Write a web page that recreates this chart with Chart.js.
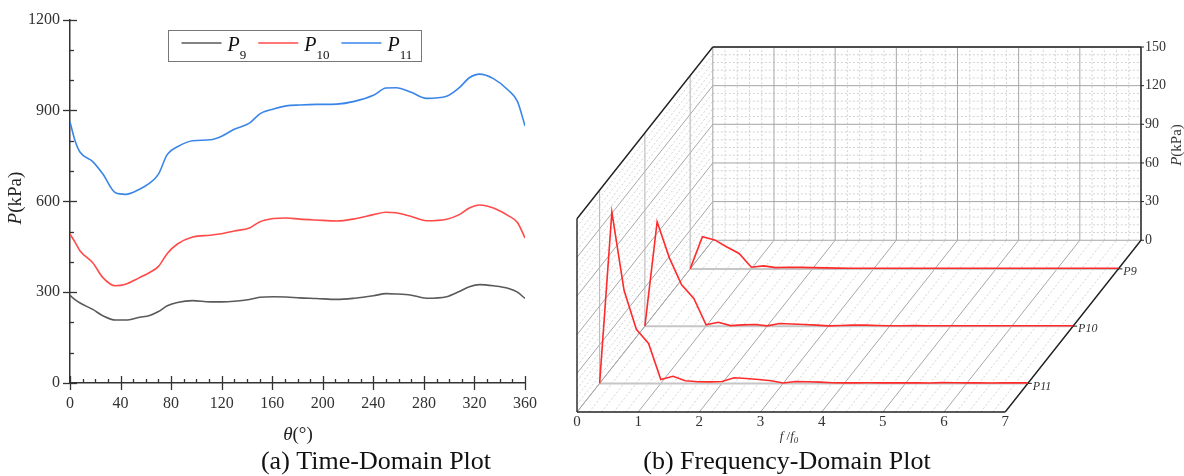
<!DOCTYPE html>
<html>
<head>
<meta charset="utf-8">
<script src="https://cdn.jsdelivr.net/npm/chart.js@4.4.0/dist/chart.umd.min.js"></script>
<style>
  html, body { margin: 0; padding: 0; background: #fff; }
  #wrap { position: relative; width: 1184px; height: 476px; overflow: hidden; }
  #left { position: absolute; left: 0; top: 0; }
  #right { position: absolute; left: 560px; top: 0; }
</style>
</head>
<body>
<div id="wrap">
  <canvas id="left" width="560" height="476"></canvas>
  <canvas id="right" width="624" height="476"></canvas>
</div>
<script>
// --- time domain data (theta in degrees, pressure in kPa) ---
const theta = [0, 4, 8, 18, 26, 36, 44, 55, 63, 70, 77, 85, 97, 111, 120, 130, 142, 150, 161, 171,
               182, 195, 211, 225, 240, 250, 258, 270, 282, 298, 308, 316, 324, 335, 347, 354, 360];
const p9 = [289, 275, 264, 243, 222, 208, 208, 217, 223, 236, 255, 266, 272, 268, 268, 270, 276, 283, 285, 284,
            281, 279, 276, 280, 288, 295, 294, 290, 280, 285, 302, 318, 325, 321, 312, 300, 279];
const p10 = [492, 465, 436, 397, 348, 321, 326, 348, 365, 385, 428, 459, 482, 488, 493, 502, 512, 532, 543, 545,
             541, 538, 535, 542, 556, 564, 562, 550, 536, 541, 556, 578, 588, 578, 552, 530, 479];
const p11 = [862, 800, 762, 731, 690, 628, 623, 640, 660, 690, 755, 780, 800, 803, 815, 838, 858, 888, 905, 915,
             918, 920, 921, 930, 950, 974, 975, 960, 940, 947, 975, 1008, 1020, 1005, 966, 930, 849];
const seriesNames = ['P9', 'P10', 'P11'];
const seriesColors = ['#5a5a5a', '#ff4a4a', '#3a86e8'];
const thetaTicks = [0, 40, 80, 120, 160, 200, 240, 280, 320, 360];
const pTicksTime = [0, 300, 600, 900, 1200];

// --- frequency domain data (f/f0, amplitude in kPa) ---
const freq = [0, 0.2, 0.4, 0.6, 0.8, 1, 1.2, 1.4, 1.6, 1.8, 2, 2.2, 2.4, 2.6, 2.8, 3, 3.2, 3.4, 3.6, 3.8,
              4, 4.2, 4.4, 4.6, 4.8, 5, 5.2, 5.4, 5.6, 5.8, 6, 6.2, 6.4, 6.6, 6.8, 7];
const spec9 = [0, 25, 22.5, 17, 12, 1.3, 2.3, 1.0, 1.3, 1.2, 1.0, 0.8, 0.6, 0.5, 0.5, 0.5, 0.5, 0.5, 0.5, 0.5,
               0.5, 0.5, 0.5, 0.5, 0.5, 0.5, 0.5, 0.5, 0.5, 0.5, 0.5, 0.5, 0.5, 0.5, 0.5, 0.5];
const spec10 = [0, 81, 53, 32, 21.5, 1, 3, 0.4, 1.0, 1.3, 0.2, 2.0, 1.7, 1.3, 0.8, 0.2, 0.5, 0.8, 0.8, 0.5,
                0.3, 0.3, 0.4, 0.3, 0.3, 0.3, 0.3, 0.3, 0.3, 0.3, 0.3, 0.3, 0.3, 0.3, 0.3, 0.3];
const spec11 = [0, 133, 72, 42, 31, 3, 5.5, 2, 1.3, 1.2, 1.5, 4.4, 3.8, 3.0, 2.0, 0.3, 1.5, 1.3, 1.0, 0.5,
                0.4, 0.4, 0.5, 0.4, 0.4, 0.4, 0.4, 0.3, 0.6, 0.5, 0.4, 0.4, 0.3, 0.5, 0.4, 0.4];
const fTicks = [0, 1, 2, 3, 4, 5, 6, 7];
const pTicksFreq = [0, 30, 60, 90, 120, 150];

const SERIF = '"Liberation Serif", "Times New Roman", serif';
const f = (size, italic) => (italic ? 'italic ' : '') + size + 'px ' + SERIF;

function seg(ctx, a, b) {
  ctx.beginPath();
  ctx.moveTo(a[0], a[1]);
  ctx.lineTo(b[0], b[1]);
  ctx.stroke();
}

// draws a run of text pieces (for italic P, subscripts ...)
function richText(ctx, parts, x, y, align) {
  ctx.textAlign = 'left';
  ctx.textBaseline = 'alphabetic';
  let w = 0;
  parts.forEach(p => { ctx.font = p.font; w += ctx.measureText(p.text).width; });
  let cx = align === 'center' ? x - w / 2 : x;
  parts.forEach(p => {
    ctx.font = p.font;
    ctx.fillText(p.text, cx, y + (p.dy || 0));
    cx += ctx.measureText(p.text).width;
  });
  return w;
}

// ---------- left: time domain ----------
const leftDecor = {
  id: 'leftDecor',
  afterDraw(chart) {
    const ctx = chart.ctx, xs = chart.scales.x, ys = chart.scales.y, a = chart.chartArea;
    ctx.save();
    ctx.strokeStyle = '#333';
    ctx.lineWidth = 1.3;
    for (let v = 0; v <= 1200; v += 100) {
      const y = Math.round(ys.getPixelForValue(v)) + 0.5;
      const major = v % 300 === 0;
      seg(ctx, [a.left - (major ? 7 : 0), y], [a.left + (major ? 7 : 4), y]);
    }
    for (let v = 0; v <= 360; v += 10) {
      const x = Math.round(xs.getPixelForValue(v)) + 0.5;
      const major = v % 40 === 0;
      seg(ctx, [x, a.bottom + (major ? 7 : 0)], [x, a.bottom - (major ? 7 : 4)]);
    }

    ctx.fillStyle = '#222';
    // axis titles
    richText(ctx, [{ text: 'θ', font: f(19, true) }, { text: '(°)', font: f(19) }], 298, 440, 'center');
    ctx.save();
    ctx.translate(21, 198);
    ctx.rotate(-Math.PI / 2);
    richText(ctx, [{ text: 'P', font: f(19, true) }, { text: '(kPa)', font: f(19) }], 0, 0, 'center');
    ctx.restore();

    // legend box
    const bx = 168.5, by = 30.5, bw = 253, bh = 31;
    ctx.fillStyle = '#fff';
    ctx.fillRect(bx, by, bw, bh);
    ctx.strokeStyle = '#777';
    ctx.lineWidth = 1;
    ctx.strokeRect(bx, by, bw, bh);
    let x = bx + 13;
    seriesNames.forEach((name, i) => {
      ctx.strokeStyle = seriesColors[i];
      ctx.lineWidth = 1.5;
      seg(ctx, [x, by + 12.5], [x + 40, by + 12.5]);
      ctx.fillStyle = '#111';
      const w = richText(ctx, [
        { text: 'P', font: f(20, true) },
        { text: name.slice(1), font: f(13), dy: 8 }
      ], x + 46, by + 20, 'left');
      x += 46 + w + 12;
    });

    // caption
    ctx.fillStyle = '#111';
    richText(ctx, [{ text: '(a) Time-Domain Plot', font: f(26) }], 376, 469, 'center');
    ctx.restore();
  }
};

const timeSeries = [p9, p10, p11];
new Chart(document.getElementById('left'), {
  type: 'line',
  data: {
    datasets: seriesNames.map((name, i) => ({
      label: name,
      data: theta.map((t, k) => ({ x: t, y: timeSeries[i][k] })),
      borderColor: seriesColors[i],
      borderWidth: 1.6,
      pointRadius: 0,
      cubicInterpolationMode: 'monotone',
      fill: false
    }))
  },
  options: {
    responsive: false,
    animation: false,
    layout: { padding: { left: 0, right: 35, top: 17, bottom: 0 } },
    scales: {
      x: {
        type: 'linear', min: 0, max: 360,
        afterFit: s => { s.height = 93; },
        afterBuildTicks: s => { s.ticks = thetaTicks.map(v => ({ value: v })); },
        grid: { display: false, drawTicks: false },
        border: { display: true, color: '#333', width: 1.5 },
        ticks: { autoSkip: false, maxRotation: 0, padding: 11, color: '#333',
                 font: { family: SERIF, size: 16 }, callback: v => String(v) }
      },
      y: {
        min: 0, max: 1200,
        afterFit: s => { s.width = 70; },
        afterBuildTicks: s => { s.ticks = pTicksTime.map(v => ({ value: v })); },
        grid: { display: false, drawTicks: false },
        border: { display: true, color: '#333', width: 1.5 },
        ticks: { padding: 10, color: '#333', font: { family: SERIF, size: 16 }, callback: v => String(v) }
      }
    },
    plugins: { legend: { display: false }, tooltip: { enabled: false } }
  },
  plugins: [leftDecor]
});

// ---------- right: frequency domain waterfall (oblique projection) ----------
const DX = 2.22;   // f units shifted per full depth
const DY = 133.3;  // kPa shifted per full depth
const depthOf = i => (seriesNames.length - i - 0.5) / seriesNames.length;

function proj(chart, fv, pv, d) {
  return [chart.scales.x.getPixelForValue(fv + d * DX), chart.scales.y.getPixelForValue(pv + d * DY)];
}

const waterfall = {
  id: 'waterfall',
  beforeDatasetsDraw(chart) {
    const ctx = chart.ctx;
    const P = (fv, pv, d) => proj(chart, fv, pv, d);
    const fMax = fTicks[fTicks.length - 1], pMax = pTicksFreq[pTicksFreq.length - 1];
    ctx.save();
    ctx.lineWidth = 1;

    // minor grid (dashed)
    ctx.strokeStyle = '#d2d2d2';
    ctx.setLineDash([2, 2]);
    for (let k = 1; k < 35; k++) {
      if (k % 5 === 0) continue;
      const fv = k * 0.2;
      seg(ctx, P(fv, 0, 1), P(fv, pMax, 1));
      seg(ctx, P(fv, 0, 0), P(fv, 0, 1));
    }
    for (let k = 1; k < 25; k++) {
      if (k % 5 === 0) continue;
      const pv = k * 6;
      seg(ctx, P(0, pv, 1), P(fMax, pv, 1));
      seg(ctx, P(0, pv, 0), P(0, pv, 1));
    }
    ctx.setLineDash([]);

    // major grid
    ctx.strokeStyle = '#a6a6a6';
    fTicks.forEach(fv => {
      seg(ctx, P(fv, 0, 1), P(fv, pMax, 1));
      seg(ctx, P(fv, 0, 0), P(fv, 0, 1));
    });
    pTicksFreq.forEach(pv => {
      seg(ctx, P(0, pv, 1), P(fMax, pv, 1));
      seg(ctx, P(0, pv, 0), P(0, pv, 1));
    });
    // category lines on floor and left wall
    seriesNames.forEach((n, i) => {
      const d = depthOf(i);
      ctx.strokeStyle = '#b4b4b4';
      ctx.lineWidth = 1;
      seg(ctx, P(0, 0, d), P(0, pMax, d));
      ctx.strokeStyle = '#c6c6c6';
      ctx.lineWidth = 2;
      seg(ctx, P(0, 0, d), P(fMax, 0, d));
    });

    // outline
    ctx.strokeStyle = '#222';
    ctx.lineWidth = 1.4;
    seg(ctx, P(0, 0, 0), P(fMax, 0, 0));
    seg(ctx, P(fMax, 0, 0), P(fMax, 0, 1));
    seg(ctx, P(0, 0, 0), P(0, pMax, 0));
    seg(ctx, P(0, pMax, 0), P(0, pMax, 1));
    seg(ctx, P(0, pMax, 1), P(fMax, pMax, 1));
    seg(ctx, P(fMax, pMax, 1), P(fMax, 0, 1));

    // ticks and labels
    ctx.fillStyle = '#333';
    ctx.textAlign = 'center';
    ctx.textBaseline = 'middle';
    ctx.font = f(15);
    fTicks.forEach(fv => {
      const p = P(fv, 0, 0);
      ctx.fillText(String(fv), p[0], p[1] + 10);
    });
    ctx.textAlign = 'left';
    ctx.font = f(14);
    ctx.lineWidth = 1;
    pTicksFreq.forEach(pv => {
      const p = P(fMax, pv, 1);
      seg(ctx, p, [p[0] + 3, p[1]]);
      ctx.fillText(String(pv), p[0] + 4, p[1]);
    });
    ctx.font = f(12, true);
    seriesNames.forEach((n, i) => {
      const p = P(fMax, 0, depthOf(i));
      seg(ctx, p, [p[0] + 4, p[1]]);
      ctx.textBaseline = 'middle';
      ctx.fillText(n, p[0] + 5, p[1] + 3);
    });

    // axis titles
    ctx.fillStyle = '#333';
    richText(ctx, [
      { text: 'f', font: f(13, true) },
      { text: ' /', font: f(13) },
      { text: 'f', font: f(13, true) },
      { text: '0', font: f(9, true), dy: 3 }
    ], 229, 440, 'center');
    ctx.save();
    ctx.translate(621, 145);
    ctx.rotate(-Math.PI / 2);
    richText(ctx, [{ text: 'P', font: f(15, true) }, { text: '(kPa)', font: f(15) }], 0, 0, 'center');
    ctx.restore();

    // caption
    ctx.fillStyle = '#111';
    richText(ctx, [{ text: '(b) Frequency-Domain Plot', font: f(26) }], 227, 469, 'center');
    ctx.restore();
  }
};

const spectra = [spec9, spec10, spec11];
new Chart(document.getElementById('right'), {
  type: 'line',
  data: {
    datasets: seriesNames.map((name, i) => ({
      label: name,
      data: freq.map((fv, k) => ({ x: fv + depthOf(i) * DX, y: spectra[i][k] + depthOf(i) * DY })),
      borderColor: '#ff2b2b',
      borderWidth: 1.6,
      pointRadius: 0,
      tension: 0,
      fill: false,
      clip: false
    }))
  },
  options: {
    responsive: false,
    animation: false,
    layout: { padding: { left: 17, right: 43, top: 47, bottom: 64 } },
    scales: {
      x: { type: 'linear', display: false, min: 0, max: 7 + DX },
      y: { display: false, min: 0, max: 150 + DY }
    },
    plugins: { legend: { display: false }, tooltip: { enabled: false } }
  },
  plugins: [waterfall]
});
</script>
</body>
</html>
